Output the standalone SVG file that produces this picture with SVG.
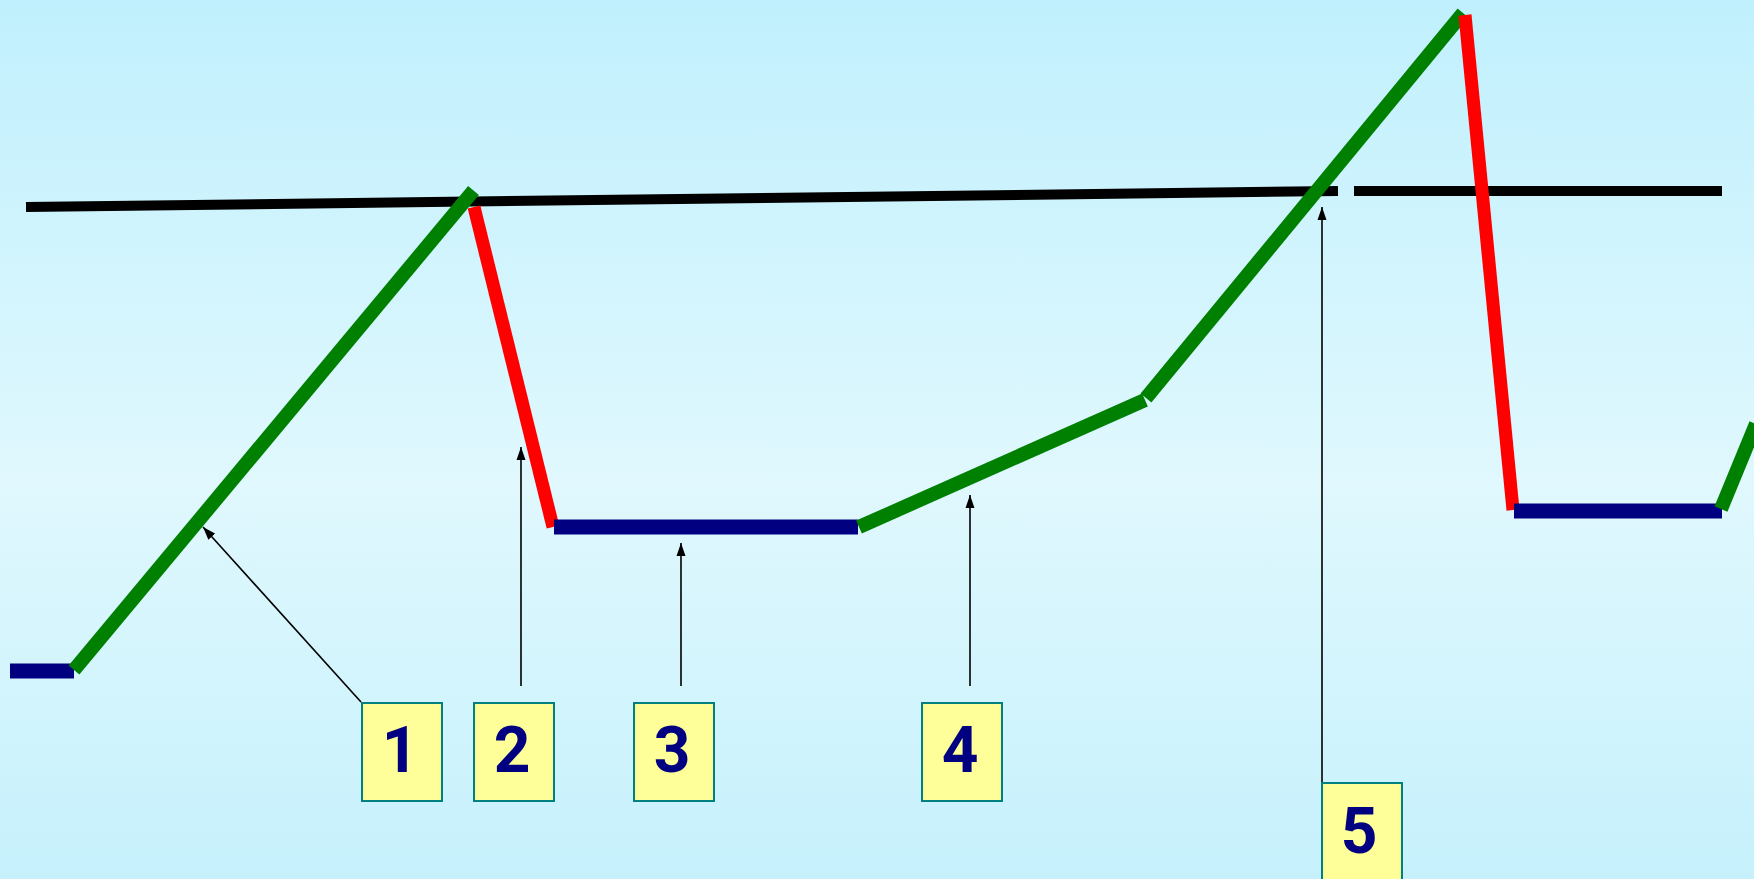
<svg xmlns="http://www.w3.org/2000/svg" width="1754" height="879" viewBox="0 0 1754 879">
<defs>
<linearGradient id="bg" x1="0" y1="0" x2="0" y2="1">
<stop offset="0" stop-color="#C0F0FD"/>
<stop offset="0.55" stop-color="#E0F8FE"/>
<stop offset="1" stop-color="#C6F1FC"/>
</linearGradient>
<marker id="ah" markerUnits="userSpaceOnUse" markerWidth="14" markerHeight="10" refX="13" refY="5" orient="auto">
<path d="M0,0.5 L13,5 L0,9.5 Z" fill="#000"/>
</marker>
<style>
.blk{stroke:#000;stroke-width:10;fill:none}
.g{stroke:#008000;stroke-width:14;fill:none}
.r{stroke:#FF0000;stroke-width:13;fill:none}
.b{stroke:#000080;stroke-width:15;fill:none}
.arr{stroke:#000;stroke-width:1.6;fill:none;marker-end:url(#ah)}
.box{fill:#FFFF99;stroke:#008080;stroke-width:2}
.lbl{font-family:Roboto,"Liberation Sans",sans-serif;font-weight:700;font-size:64px;fill:#000080;text-anchor:middle}
</style>
</defs>
<rect x="0" y="0" width="1754" height="879" fill="url(#bg)"/>
<g id="curve">
<line class="blk" x1="26" y1="207" x2="1338" y2="191"/>
<line class="blk" x1="1354" y1="191" x2="1722" y2="191"/>
<line class="b" x1="10" y1="671" x2="74" y2="671"/>
<line class="g" x1="74" y1="670" x2="473.5" y2="190.5"/>
<line class="r" x1="474" y1="207" x2="553" y2="527"/>
<line class="b" x1="554" y1="527" x2="858" y2="527"/>
<line class="g" x1="859" y1="527" x2="1145" y2="400"/>
<line class="g" x1="1146" y1="398" x2="1463" y2="13"/>
<line class="r" x1="1465" y1="15" x2="1513" y2="510"/>
<line class="b" x1="1514" y1="511" x2="1722" y2="511"/>
<line class="g" x1="1721" y1="509" x2="1756" y2="424"/>
</g>
<g id="connectors">
<line class="arr" x1="361" y1="702" x2="203" y2="527"/>
<line class="arr" x1="521" y1="686" x2="521" y2="447"/>
<line class="arr" x1="681" y1="686" x2="681" y2="543"/>
<line class="arr" x1="970" y1="686" x2="970" y2="495"/>
<line class="arr" x1="1322" y1="783" x2="1322" y2="207"/>
</g>
<g id="node1"><rect class="box" x="362" y="703" width="80" height="98"/><text class="lbl" x="400" y="772">1</text></g>
<g id="node2"><rect class="box" x="474" y="703" width="80" height="98"/><text class="lbl" x="512" y="772">2</text></g>
<g id="node3"><rect class="box" x="634" y="703" width="80" height="98"/><text class="lbl" x="672" y="772">3</text></g>
<g id="node4"><rect class="box" x="922" y="703" width="80" height="98"/><text class="lbl" x="960" y="772">4</text></g>
<g id="node5"><rect class="box" x="1322" y="783" width="80" height="98"/><text class="lbl" x="1359" y="853">5</text></g>
</svg>
